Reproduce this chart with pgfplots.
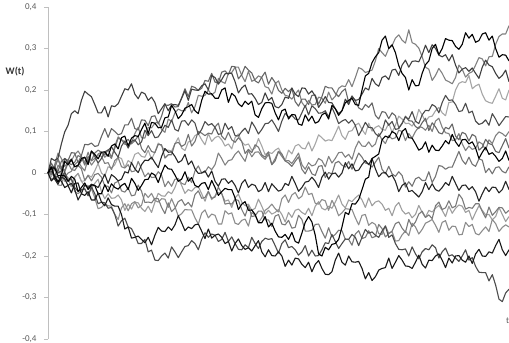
\documentclass[border=0pt]{standalone}
\usepackage{fontspec}
\setmainfont{Carlito}
\usepackage{pgfplots}
\pgfplotsset{compat=1.18}
\usepackage{pgfplotstable}

\pgfplotstableread{
i A B C D E F G H I J K L M N O
0 0 0 0 0 0 0 0 0 0 0 0 0 0 0 0
0.5 .012 -.015 .035 -.009 .014 0 .015 -.019 .004 -.004 .013 -.019 .002 -.001 .024
1 .012 -.01 .03 .01 .015 .02 -.01 -.01 -.005 .012 -.015 -.01 -.008 .018 .008
1.5 -.007 .019 .036 .009 0 .048 -.022 -.009 -.02 .033 -.027 .001 -.029 .034 .004
2 -.005 .008 .07 -.005 .005 .035 -.005 -.02 -.015 .014 -.01 0 -.03 .01 .028
2.5 .028 -.01 .099 -.02 .035 .016 -.007 -.035 .003 .006 -.014 -.018 -.001 .003 .035
3 .02 0 .115 -.015 .025 .025 -.02 -.03 -.02 .025 -.03 -.015 -.012 .024 .03
3.5 .032 .004 .143 -.033 .034 .029 -.008 -.048 -.014 .02 -.025 -.033 -.015 .009 .049
4 .015 .02 .15 -.01 .015 .045 -.015 -.025 -.035 .026 -.04 -.01 -.045 .006 .048
4.5 .019 .028 .143 -.001 .017 .053 -.045 -.024 -.044 .042 -.065 -.001 -.05 .018 .025
5 .035 .015 .175 -.02 .03 .04 -.035 -.05 -.04 .038 -.05 -.02 -.042 .01 .042
5.5 .038 .005 .197 -.019 .038 .025 -.024 -.054 -.038 .019 -.029 -.031 -.038 -.018 .069
6 .02 .035 .19 -.005 .025 .05 -.04 -.045 -.055 .04 -.035 -.03 -.054 -.006 .068
6.5 .053 .019 .184 -.01 .053 .029 -.029 -.065 -.033 .03 -.027 -.038 -.037 -.019 .072
7 .045 .03 .165 .005 .04 .035 -.03 -.065 -.05 .048 -.03 -.025 -.06 -.004 .064
7.5 .034 .046 .145 .023 .024 .044 -.05 -.048 -.074 .055 -.035 -.015 -.086 -.001 .066
8 .05 .05 .145 0 .035 .04 -.05 -.07 -.07 .05 -.02 -.045 -.083 -.01 .088
8.5 .051 .038 .16 -.007 .051 .023 -.028 -.079 -.072 .043 -.003 -.062 -.075 -.031 .107
9 .04 .045 .135 .015 .055 .025 -.045 -.06 -.085 .056 -.025 -.05 -.079 -.032 .086
9.5 .065 .035 .162 .012 .063 .008 -.026 -.076 -.083 .038 -.004 -.061 -.08 -.048 .107
10 .07 .065 .16 .02 .05 .03 -.035 -.08 -.1 .06 -.01 -.06 -.1 -.024 .1
10.5 .058 .087 .167 .038 .038 .037 -.039 -.08 -.128 .084 -.019 -.053 -.112 -.02 .092
11 .085 .08 .185 .035 .065 .015 -.03 -.1 -.115 .08 -.015 -.065 -.084 -.043 .095
11.5 .089 .069 .203 .013 .077 .012 -.025 -.135 -.109 .075 .003 -.09 -.074 -.046 .116
12 .065 .07 .2 .03 .06 .02 -.04 -.13 -.13 .081 0 -.075 -.091 -.036 .116
12.5 .084 .073 .215 .024 .076 .003 -.013 -.157 -.134 .07 .025 -.087 -.074 -.055 .132
13 .09 .095 .19 .045 .08 .005 -.025 -.155 -.15 .078 .01 -.07 -.069 -.053 .107
13.5 .088 .11 .179 .049 .068 .028 -.042 -.152 -.17 .089 .001 -.072 -.084 -.029 .104
14 .105 .085 .195 .04 .075 .01 -.03 -.16 -.17 .059 .02 -.085 -.078 -.044 .128
14.5 .12 .084 .191 .038 .103 -.009 -.016 -.168 -.16 .049 .031 -.093 -.049 -.071 .127
15 .095 .11 .175 .055 .09 0 -.015 -.155 -.19 .066 .03 -.08 -.059 -.07 .114
15.5 .122 .109 .183 .033 .102 -.011 0 -.173 -.186 .052 .038 -.095 -.049 -.072 .136
16 .12 .12 .17 .05 .085 -.01 -.005 -.15 -.21 .049 .025 -.07 -.066 -.061 .138
16.5 .109 .123 .143 .072 .087 .003 -.023 -.131 -.211 .069 .013 -.049 -.07 -.062 .118
17 .11 .105 .155 .065 .1 -.005 0 -.14 -.2 .068 .04 -.055 -.062 -.083 .137
17.5 .133 .098 .167 .054 .115 -.033 .019 -.141 -.193 .036 .059 -.056 -.063 -.098 .164
18 .135 .13 .15 .055 .11 -.02 .01 -.13 -.205 .044 .05 -.045 -.083 -.072 .163
18.5 .163 .124 .164 .053 .128 -.032 .009 -.138 -.178 .044 .051 -.05 -.062 -.093 .167
19 .15 .145 .165 .07 .105 -.015 -.005 -.125 -.19 .071 .04 -.035 -.081 -.085 .159
19.5 .131 .154 .163 .085 .101 -.014 -.02 -.103 -.204 .074 .025 -.013 -.104 -.069 .16
20 .14 .15 .18 .06 .125 -.025 -.015 -.12 -.19 .064 .03 -.03 -.098 -.064 .181
20.5 .156 .15 .198 .054 .126 -.028 .003 -.139 -.177 .069 .045 -.049 -.088 -.078 .203
21 .16 .17 .175 .075 .115 -.01 -.02 -.13 -.175 .093 .02 -.04 -.089 -.071 .184
21.5 .165 .145 .202 .077 .128 -.023 -.011 -.134 -.163 .065 .029 -.044 -.089 -.082 .209
22 .15 .16 .2 .09 .12 .005 -.03 -.125 -.17 .076 .01 -.035 -.108 -.052 .206
22.5 .143 .187 .199 .095 .093 .017 -.034 -.123 -.185 .1 -.001 -.033 -.123 -.043 .199
23 .175 .185 .21 .08 .105 0 -.025 -.14 -.16 .096 0 -.05 -.097 -.061 .204
23.5 .197 .187 .215 .068 .124 .002 -.023 -.158 -.144 .09 .005 -.068 -.089 -.059 .223
24 .19 .2 .2 .095 .115 .015 -.04 -.135 -.155 .096 -.01 -.045 -.108 -.044 .221
24.5 .191 .188 .235 .076 .119 .008 -.018 -.157 -.147 .094 .005 -.064 -.099 -.061 .24
25 .18 .195 .23 .085 .11 .02 -.035 -.15 -.15 .111 -.02 -.055 -.102 -.058 .219
25.5 .18 .228 .214 .089 .093 .048 -.054 -.147 -.165 .12 -.032 -.047 -.123 -.034 .217
26 .2 .22 .225 .08 .095 .035 -.045 -.155 -.16 .089 -.015 -.05 -.123 -.049 .243
26.5 .205 .216 .239 .065 .12 .019 -.037 -.17 -.143 .08 -.014 -.068 -.091 -.075 .246
27 .17 .24 .24 .07 .105 .03 -.04 -.165 -.165 .098 -.025 -.065 -.099 -.073 .237
27.5 .192 .242 .24 .058 .112 .032 -.04 -.188 -.154 .08 -.018 -.083 -.096 -.075 .257
28 .185 .255 .22 .085 .09 .045 -.06 -.17 -.17 .074 -.03 -.06 -.121 -.064 .256
28.5 .167 .255 .193 .094 .089 .053 -.088 -.159 -.184 .085 -.048 -.051 -.124 -.066 .227
29 .16 .235 .205 .075 .1 .04 -.075 -.175 -.185 .076 -.025 -.07 -.114 -.088 .237
29.5 .173 .22 .212 .067 .108 .028 -.069 -.184 -.173 .047 -.016 -.079 -.111 -.104 .257
30 .165 .245 .19 .07 .095 .055 -.09 -.18 -.18 .057 -.035 -.075 -.128 -.079 .248
30.5 .173 .221 .191 .055 .123 .039 -.089 -.188 -.155 .049 -.027 -.09 -.095 -.105 .241
31 .14 .225 .18 .06 .11 .05 -.1 -.175 -.17 .068 -.03 -.085 -.102 -.103 .222
31.5 .134 .234 .165 .083 .094 .051 -.12 -.163 -.182 .062 -.045 -.063 -.119 -.092 .217
32 .155 .23 .17 .065 .105 .04 -.12 -.19 -.165 .044 -.04 -.08 -.108 -.092 .231
32.5 .169 .208 .193 .044 .119 .033 -.105 -.202 -.157 .038 -.023 -.099 -.09 -.113 .243
33 .17 .205 .175 .05 .12 .045 -.13 -.185 -.16 .051 -.045 -.09 -.084 -.113 .214
33.5 .168 .19 .182 .047 .128 .02 -.121 -.199 -.158 .02 -.026 -.099 -.075 -.129 .23
34 .145 .215 .16 .055 .115 .035 -.14 -.2 -.175 .029 -.035 -.095 -.086 -.104 .218
34.5 .128 .222 .157 .06 .1 .052 -.154 -.19 -.193 .052 -.044 -.088 -.094 -.1 .199
35 .15 .2 .165 .045 .125 .04 -.155 -.2 -.17 .046 -.04 -.1 -.062 -.123 .192
35.5 .154 .187 .183 .03 .144 .029 -.148 -.225 -.161 .029 -.025 -.118 -.053 -.125 .204
36 .13 .185 .18 .055 .135 .03 -.16 -.21 -.18 .024 -.03 -.095 -.071 -.114 .196
36.5 .141 .178 .205 .046 .139 .023 -.143 -.222 -.177 .016 -.008 -.107 -.053 -.133 .204
37 .14 .19 .19 .065 .13 .035 -.165 -.205 -.185 .028 -.025 -.09 -.047 -.131 .172
37.5 .118 .2 .184 .069 .128 .048 -.169 -.207 -.198 .039 -.044 -.087 -.062 -.102 .161
38 .115 .17 .205 .06 .145 .02 -.145 -.22 -.19 .009 -.035 -.095 -.056 -.112 .178
38.5 .14 .159 .204 .058 .163 .009 -.119 -.228 -.175 -.002 -.022 -.1 -.034 -.14 .178
39 .125 .175 .19 .075 .14 .025 -.105 -.215 -.2 .015 -.02 -.085 -.052 -.14 .165
39.5 .137 .164 .198 .053 .162 .017 -.118 -.238 -.186 -.002 -.01 -.103 -.049 -.138 .187
40 .12 .165 .185 .07 .155 .02 -.15 -.22 -.2 -.006 -.02 -.08 -.073 -.124 .188
40.5 .124 .183 .158 .092 .144 .035 -.195 -.211 -.199 .016 -.035 -.069 -.075 -.123 .166
41 .14 .18 .17 .085 .145 .03 -.2 -.23 -.185 .018 -.01 -.085 -.064 -.141 .184
41.5 .145 .168 .184 .077 .15 .015 -.179 -.244 -.168 -.011 .002 -.089 -.067 -.157 .209
42 .13 .195 .17 .08 .135 .04 -.185 -.245 -.17 .001 -.015 -.08 -.09 -.132 .205
42.5 .163 .176 .169 .078 .158 .024 -.172 -.238 -.148 -.002 -.002 -.085 -.066 -.154 .205
43 .155 .185 .155 .095 .14 .035 -.17 -.21 -.165 .024 0 -.07 -.081 -.148 .192
43.5 .139 .204 .143 .113 .119 .049 -.16 -.193 -.182 .028 -.01 -.053 -.103 -.138 .184
44 .15 .21 .15 .09 .125 .05 -.13 -.215 -.17 .019 0 -.075 -.096 -.139 .196
44.5 .169 .208 .178 .081 .129 .038 -.095 -.222 -.159 .014 .025 -.084 -.086 -.16 .203
45 .175 .225 .165 .1 .12 .045 -.1 -.2 -.16 .028 .01 -.065 -.087 -.16 .17
45.5 .18 .208 .184 .102 .128 .033 -.074 -.214 -.148 .009 .022 -.069 -.088 -.174 .186
46 .165 .23 .175 .115 .115 .06 -.075 -.215 -.155 .029 .005 -.06 -.108 -.147 .174
46.5 .163 .254 .177 .12 .09 .077 -.064 -.213 -.175 .048 .007 -.053 -.125 -.139 .157
47 .2 .25 .19 .105 .105 .065 -.04 -.23 -.155 .038 .02 -.065 -.102 -.158 .152
47.5 .234 .242 .205 .093 .122 .064 -.015 -.255 -.136 .024 .03 -.083 -.1 -.155 .165
48 .24 .245 .2 .12 .11 .075 -.01 -.24 -.145 .022 .02 -.06 -.126 -.139 .158
48.5 .266 .248 .228 .101 .109 .063 .035 -.259 -.142 .014 .035 -.079 -.119 -.156 .169
49 .28 .27 .215 .11 .095 .07 .04 -.25 -.15 .026 .01 -.07 -.124 -.153 .139
49.5 .29 .3 .209 .114 .088 .095 .046 -.234 -.155 .038 -.009 -.067 -.146 -.124 .13
50 .32 .29 .23 .105 .1 .08 .08 -.23 -.14 .009 0 -.075 -.148 -.134 .148
50.5 .33 .281 .234 .103 .128 .071 .089 -.228 -.128 -.002 .001 -.09 -.127 -.154 .146
51 .3 .3 .225 .12 .115 .09 .085 -.205 -.155 .016 -.01 -.085 -.146 -.146 .131
51.5 .309 .307 .248 .098 .124 .082 .1 -.23 -.149 -.002 -.005 -.103 -.141 -.14 .145
52 .29 .325 .25 .115 .105 .085 .095 -.215 -.17 -.008 -.02 -.08 -.164 -.122 .138
52.5 .259 .333 .235 .137 .107 .103 .078 -.199 -.184 .003 -.045 -.071 -.163 -.118 .109
53 .24 .32 .26 .13 .12 .1 .1 -.21 -.185 -.006 -.03 -.09 -.149 -.133 .119
53.5 .23 .313 .272 .119 .135 .078 .107 -.224 -.183 -.034 -.024 -.099 -.14 -.143 .137
54 .2 .345 .255 .12 .13 .095 .085 -.225 -.2 -.021 -.045 -.095 -.151 -.112 .126
54.5 .225 .314 .269 .113 .148 .084 .084 -.23 -.178 -.032 -.042 -.108 -.121 -.129 .125
55 .21 .31 .27 .125 .125 .1 .07 -.215 -.195 -.014 -.05 -.1 -.13 -.118 .112
55.5 .211 .301 .268 .153 .119 .111 .055 -.198 -.207 -.01 -.058 -.078 -.147 -.099 .107
56 .24 .28 .285 .14 .14 .11 .06 -.22 -.19 -.018 -.045 -.095 -.136 -.092 .121
56.5 .261 .255 .308 .124 .151 .103 .075 -.229 -.182 -.018 -.023 -.107 -.121 -.107 .132
57 .27 .25 .29 .135 .15 .115 .05 -.21 -.185 .003 -.04 -.09 -.117 -.101 .102
57.5 .3 .223 .309 .137 .165 .1 .067 -.211 -.173 -.023 -.026 -.094 -.112 -.11 .121
58 .31 .235 .3 .15 .16 .125 .055 -.2 -.18 -.008 -.04 -.085 -.126 -.079 .111
58.5 .285 .252 .284 .158 .145 .132 .054 -.195 -.205 .018 -.044 -.078 -.143 -.07 .097
59 .3 .24 .28 .145 .17 .11 .065 -.21 -.19 .016 -.035 -.09 -.119 -.088 .094
59.5 .324 .224 .285 .138 .187 .097 .078 -.228 -.181 .009 -.023 -.105 -.115 -.084 .11
60 .32 .22 .27 .17 .175 .095 .07 -.205 -.2 .014 -.03 -.08 -.138 -.067 .106
60.5 .319 .215 .285 .171 .176 .078 .093 -.217 -.197 .014 -.008 -.097 -.128 -.084 .118
61 .305 .23 .26 .2 .165 .08 .075 -.2 -.205 .033 -.025 -.085 -.129 -.08 .089
61.5 .298 .26 .241 .216 .148 .095 .064 -.199 -.213 .052 -.042 -.077 -.149 -.051 .08
62 .31 .25 .25 .22 .15 .07 .08 -.21 -.2 .031 -.03 -.08 -.148 -.062 .098
62.5 .338 .231 .254 .218 .168 .054 .081 -.215 -.185 .021 -.029 -.095 -.119 -.087 .094
63 .325 .24 .245 .235 .145 .065 .07 -.2 -.21 .038 -.04 -.09 -.129 -.083 .077
63.5 .334 .244 .253 .203 .149 .057 .075 -.218 -.204 .021 -.033 -.113 -.124 -.085 .093
64 .315 .26 .24 .21 .125 .06 .06 -.195 -.225 .016 -.045 -.095 -.146 -.074 .088
64.5 .319 .278 .228 .214 .117 .075 .035 -.184 -.239 .034 -.068 -.079 -.149 -.074 .055
65 .335 .275 .255 .19 .12 .07 .05 -.2 -.24 .031 -.05 -.09 -.139 -.093 .062
65.5 .338 .258 .272 .174 .128 .055 .062 -.201 -.24 .001 -.034 -.101 -.13 -.108 .081
66 .32 .28 .26 .17 .115 .08 .045 -.19 -.26 .011 -.045 -.1 -.141 -.082 .071
66.5 .33 .281 .256 .168 .143 .071 .049 -.193 -.245 -.002 -.034 -.113 -.112 -.102 .068
67 .3 .31 .24 .185 .13 .09 .04 -.175 -.27 .013 -.035 -.105 -.122 -.093 .052
67.5 .279 .329 .228 .203 .114 .099 .028 -.16 -.304 .015 -.048 -.083 -.141 -.083 .049
68 .285 .335 .235 .18 .125 .095 .035 -.185 -.31 .004 -.04 -.1 -.131 -.084 .066
68.5 .284 .335 .248 .176 .136 .088 .053 -.199 -.289 0 -.02 -.117 -.125 -.097 .083
69 .27 .355 .22 .2 .135 .1 .03 -.185 -.28 .015 -.04 -.105 -.13 -.09 .06
}\paths

\definecolor{axgray}{HTML}{BFBFBF}
\definecolor{lblgray}{HTML}{595959}

\begin{document}
\begin{tikzpicture}
\begin{axis}[name=ax, scale only axis, width=461pt, height=332pt,
  xmin=0, xmax=69, ymin=-0.4, ymax=0.4,
  axis x line=none, axis y line*=left,
  axis line style={axgray, line width=0.8pt},
  ytick={-0.4,-0.3,-0.2,-0.1,0,0.1,0.2,0.3,0.4},
  tick align=outside, major tick length=4pt,
  tick style={axgray, line width=0.8pt},
  yticklabel style={font=\fontsize{9}{10}\selectfont, text=lblgray, xshift=-4pt,
    /pgf/number format/.cd, use comma, fixed, precision=1, assume math mode=true},
  clip=false,
  every axis plot/.append style={line width=1.1pt, line join=round},
]
\addplot[black!50] table[x=i, y=B] {\paths};
\addplot[black!35] table[x=i, y=D] {\paths};
\addplot[black!50] table[x=i, y=F] {\paths};
\addplot[black!38] table[x=i, y=L] {\paths};
\addplot[black!45] table[x=i, y=M] {\paths};
\addplot[black!52] table[x=i, y=N] {\paths};
\addplot[black!60] table[x=i, y=O] {\paths};
\addplot[black!55] table[x=i, y=J] {\paths};
\addplot[black!75] table[x=i, y=C] {\paths};
\addplot[black!70] table[x=i, y=E] {\paths};
\addplot[black!70] table[x=i, y=I] {\paths};
\addplot[black!85] table[x=i, y=K] {\paths};
\addplot[black] table[x=i, y=A] {\paths};
\addplot[black] table[x=i, y=G] {\paths};
\addplot[black!90] table[x=i, y=H] {\paths};
\node[font=\fontsize{10}{12}\selectfont\bfseries, text=black!80, anchor=east] at ([xshift=-20pt]axis cs:0,0.245) {W(t)};
\node[font=\fontsize{9}{10}\selectfont, text=lblgray] at (axis cs:68.8,-0.355) {t};
\end{axis}
\pgfresetboundingbox
\path ([xshift=-48pt,yshift=-4pt]ax.south west) rectangle ([yshift=7pt]ax.north east);
\end{tikzpicture}
\end{document}
